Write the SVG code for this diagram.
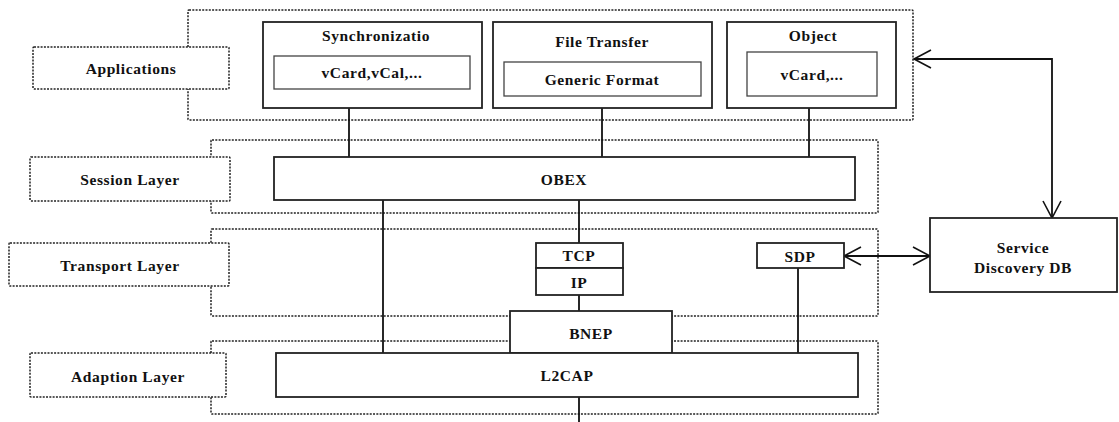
<svg xmlns="http://www.w3.org/2000/svg" width="1119" height="422" viewBox="0 0 1119 422">
<style>
.layer{fill:none;stroke:#222;stroke-width:1.5;stroke-dasharray:2,1.3}
.lbl{fill:#fff;stroke:#222;stroke-width:1.5;stroke-dasharray:2,1.3}
.box{fill:#fff;stroke:#222;stroke-width:1.8}
.inner{fill:#fff;stroke:#444;stroke-width:1.3}
.ln{fill:none;stroke:#111;stroke-width:1.8}
text{font-family:"Liberation Serif","DejaVu Serif",serif;font-weight:bold;font-size:15.5px;letter-spacing:0.6px;fill:#111;text-anchor:middle;dominant-baseline:central}
</style>
<defs>
<marker id="open" viewBox="0 0 20 20" refX="18" refY="10" markerWidth="20" markerHeight="20" markerUnits="userSpaceOnUse" orient="auto-start-reverse">
<path d="M1,1 L18,10 L1,19" fill="none" stroke="#111" stroke-width="1.6"/>
</marker>
</defs>
<g id="layer-applications">
<rect class="layer" x="188" y="10" width="725" height="110" rx="1"/>
<rect class="lbl" x="33" y="47" width="196" height="42" rx="1"/>
<text x="131" y="68">Applications</text>
</g>
<g id="layer-session">
<rect class="layer" x="211" y="140" width="667" height="73" rx="1"/>
<rect class="lbl" x="30" y="157" width="200" height="44" rx="1"/>
<text x="130" y="179">Session Layer</text>
</g>
<g id="layer-transport">
<rect class="layer" x="211" y="229" width="667" height="87" rx="1"/>
<rect class="lbl" x="9" y="243" width="220" height="43" rx="1"/>
<text x="120" y="265">Transport Layer</text>
</g>
<g id="layer-adaption">
<rect class="layer" x="211" y="341" width="667" height="73" rx="1"/>
<rect class="lbl" x="30" y="353" width="196" height="44" rx="1"/>
<text x="128" y="376">Adaption Layer</text>
</g>
<g id="connectors">
<line class="ln" x1="349" y1="108" x2="349" y2="157"/>
<line class="ln" x1="602" y1="108" x2="602" y2="157"/>
<line class="ln" x1="809" y1="108" x2="809" y2="157"/>
<line class="ln" x1="383" y1="200" x2="383" y2="353"/>
<line class="ln" x1="579" y1="200" x2="579" y2="243"/>
<line class="ln" x1="579" y1="295" x2="579" y2="311"/>
<line class="ln" x1="798" y1="268" x2="798" y2="353"/>
<line class="ln" x1="579" y1="397" x2="579" y2="422"/>
<line class="ln" x1="844" y1="256" x2="930" y2="256" marker-start="url(#open)" marker-end="url(#open)"/>
<polyline class="ln" points="914,59 1052,59 1052,218" marker-start="url(#open)" marker-end="url(#open)"/>
</g>
<g id="node-sync">
<rect class="box" x="263" y="22" width="219" height="86"/>
<text x="376" y="35">Synchronizatio</text>
<rect class="inner" x="274" y="56" width="196" height="33"/>
<text x="372" y="72">vCard,vCal,...</text>
</g>
<g id="node-filetransfer">
<rect class="box" x="493" y="22" width="219" height="86"/>
<text x="602" y="41">File Transfer</text>
<rect class="inner" x="504" y="62" width="197" height="34"/>
<text x="602" y="79">Generic Format</text>
</g>
<g id="node-object">
<rect class="box" x="727" y="22" width="169" height="86"/>
<text x="813" y="35">Object</text>
<rect class="inner" x="747" y="52" width="130" height="44"/>
<text x="812" y="74">vCard,...</text>
</g>
<g id="node-obex">
<rect class="box" x="274" y="157" width="581" height="43"/>
<text x="564" y="179">OBEX</text>
</g>
<g id="node-tcp">
<rect class="box" x="536" y="243" width="87" height="25"/>
<text x="579" y="255">TCP</text>
</g>
<g id="node-ip">
<rect class="box" x="536" y="268" width="87" height="27"/>
<text x="579" y="282">IP</text>
</g>
<g id="node-sdp">
<rect class="box" x="757" y="243" width="87" height="25"/>
<text x="800" y="256">SDP</text>
</g>
<g id="node-bnep">
<rect class="box" x="510" y="311" width="162" height="42"/>
<text x="591" y="333">BNEP</text>
</g>
<g id="node-l2cap">
<rect class="box" x="276" y="353" width="582" height="44"/>
<text x="567" y="375">L2CAP</text>
</g>
<g id="node-sddb">
<rect class="box" x="930" y="218" width="187" height="74"/>
<text x="1023" y="247">Service</text>
<text x="1023" y="267">Discovery DB</text>
</g>
</svg>
